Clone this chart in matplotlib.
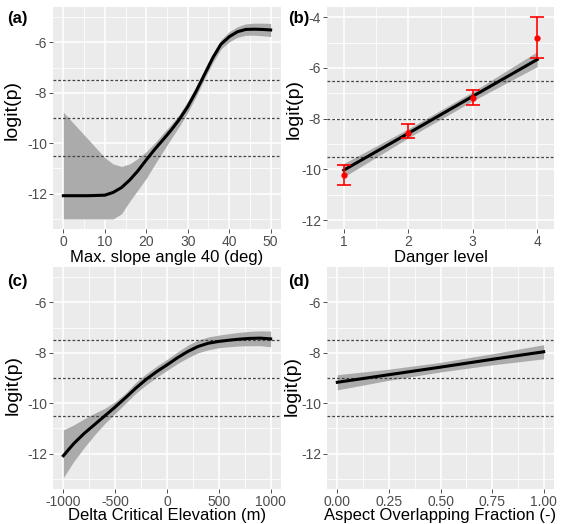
import matplotlib
matplotlib.use("Agg")
import matplotlib.pyplot as plt
import numpy as np

plt.rcParams['font.family'] = ['Liberation Sans', 'DejaVu Sans']

# ---------------- data ----------------
# (a) Max. slope angle 40 (deg)
xa = [0, 2, 4, 6, 8, 10, 12, 14, 16, 18, 20, 22, 24, 26, 28, 30, 32, 34, 36, 38, 40, 42, 44, 46, 48, 50]
fit_a = [-12.08, -12.08, -12.08, -12.08, -12.07, -12.06, -11.95, -11.76, -11.46, -11.09, -10.66, -10.25,
         -9.87, -9.48, -9.05, -8.55, -7.95, -7.29, -6.63, -6.08, -5.78, -5.58, -5.49, -5.48, -5.49, -5.51]
up_a = [-8.77, -9.13, -9.49, -9.85, -10.21, -10.57, -10.82, -10.92, -10.82, -10.6, -10.33, -10.0,
        -9.62, -9.25, -8.85, -8.33, -7.75, -7.1, -6.45, -5.9, -5.58, -5.38, -5.27, -5.24, -5.24, -5.25]
lo_a = [-13.0, -13.0, -13.0, -13.0, -13.0, -13.0, -13.0, -12.8, -12.3, -11.85, -11.39, -10.85,
        -10.33, -9.82, -9.32, -8.78, -8.15, -7.47, -6.82, -6.27, -5.98, -5.8, -5.72, -5.72, -5.74, -5.77]
hl_a = [-7.5, -9.0, -10.5]

# (b) Danger level
xb = [1, 2, 3, 4]
fit_b = [-10.03, -8.58, -7.12, -5.67]
up_b = [-9.77, -8.40, -6.94, -5.36]
lo_b = [-10.30, -8.76, -7.30, -5.95]
obs_b = [-10.23, -8.55, -7.17, -4.82]
obs_hi_b = [-9.84, -8.23, -6.88, -4.0]
obs_lo_b = [-10.62, -8.78, -7.47, -5.62]
hl_b = [-6.5, -8.0, -9.5]

# (c) Delta Critical Elevation (m)
xc = [-1000, -900, -800, -700, -600, -500, -400, -300, -200, -100, 0, 100, 200, 300, 400, 500, 600, 700, 800, 900, 1000]
fit_c = [-12.08, -11.6, -11.2, -10.85, -10.5, -10.15, -9.78, -9.4, -9.05, -8.75, -8.48, -8.2, -7.95,
         -7.75, -7.62, -7.55, -7.5, -7.46, -7.43, -7.42, -7.45]
up_c = [-11.06, -10.86, -10.62, -10.4, -10.2, -9.94, -9.6, -9.17, -8.83, -8.53, -8.26, -7.97, -7.7,
        -7.5, -7.37, -7.3, -7.24, -7.19, -7.15, -7.13, -7.14]
lo_c = [-12.95, -12.31, -11.76, -11.26, -10.8, -10.4, -10.0, -9.6, -9.27, -8.97, -8.7, -8.43, -8.2,
        -8.0, -7.88, -7.8, -7.76, -7.73, -7.72, -7.72, -7.76]
hl_c = [-7.5, -9.0, -10.5]

# (d) Aspect Overlapping Fraction (-)
xd = [0.0, 0.25, 0.5, 0.75, 1.0]
fit_d = [-9.17, -8.87, -8.57, -8.26, -7.96]
up_d = [-8.87, -8.65, -8.38, -8.04, -7.68]
lo_d = [-9.47, -9.09, -8.76, -8.48, -8.24]
hl_d = [-7.5, -9.0, -10.5]

# ---------------- style ----------------
W, H = 562, 524
fig = plt.figure(figsize=(W / 100, H / 100), dpi=100)
BG = '#EBEBEB'
RIB = '#ABABAB'

def make_ax(l, t, r, b):
    return fig.add_axes([l / W, 1 - b / H, (r - l) / W, (b - t) / H]), (l, t, r, b)

def style(axb, xlim, ylim, xmaj, xmin, ymaj, ymin, xticklabels, xlabel, ylab_px, xlpad=1):
    ax, (l, t, r, b) = axb
    ax.set_facecolor(BG)
    ax.set_xlim(*xlim)
    ax.set_ylim(*ylim)
    ax.set_xticks(xmaj)
    ax.set_xticklabels(xticklabels)
    ax.set_xticks(xmin, minor=True)
    ax.set_yticks(ymaj)
    ax.set_yticklabels([f"{v:g}" for v in ymaj])
    ax.set_yticks(ymin, minor=True)
    ax.grid(which='major', color='white', lw=1.1, zorder=0)
    ax.grid(which='minor', color='white', lw=0.55, zorder=0)
    ax.set_axisbelow(True)
    for s in ax.spines.values():
        s.set_visible(False)
    ax.tick_params(which='major', length=2.75, width=0.6, color='#333333',
                   labelsize=10, labelcolor='#4D4D4D', pad=1.5)
    ax.tick_params(which='minor', length=0)
    ax.set_xlabel(xlabel, fontsize=12, labelpad=xlpad)
    ax.set_ylabel('logit(p)', fontsize=14)
    lx, ly = ylab_px
    ax.yaxis.set_label_coords((lx - l) / (r - l), (b - ly) / (b - t))

def hlines(ax, ys):
    for y in ys:
        ax.axhline(y, color='#444444', lw=0.9, ls=(0, (2.2, 1.6)), zorder=3)

ylim_main = (-13.4, -4.6)
yt = [-12, -10, -8, -6]
ym = [-13, -11, -9, -7, -5]

# (a)
axb = make_ax(53, 7, 281, 229)
ax = axb[0]
ax.fill_between(xa, lo_a, up_a, color=RIB, lw=0, zorder=2)
ax.plot(xa, fit_a, color='black', lw=2.2, zorder=4)
hlines(ax, hl_a)
style(axb, (-2.5, 52.5), ylim_main, [0, 10, 20, 30, 40, 50], [5, 15, 25, 35, 45], yt, ym,
      ['0', '10', '20', '30', '40', '50'], 'Max. slope angle 40 (deg)', (21, 110))

# (b)
axb = make_ax(327, 7, 554, 229)
ax = axb[0]
ax.fill_between(xb, lo_b, up_b, color=RIB, lw=0, zorder=2)
ax.plot(xb, fit_b, color='black', lw=2.2, zorder=4)
hlines(ax, hl_b)
yerr = [np.array(obs_b) - np.array(obs_lo_b), np.array(obs_hi_b) - np.array(obs_b)]
ax.errorbar(xb, obs_b, yerr=yerr, fmt='o', color='red', ms=3.5, capsize=4.7, elinewidth=1.2,
            capthick=1.2, zorder=5)
style(axb, (0.74, 4.26), (-12.35, -3.6), [1, 2, 3, 4], [1.5, 2.5, 3.5], [-12, -10, -8, -6, -4],
      [-11, -9, -7, -5], ['1', '2', '3', '4'], 'Danger level', (303, 109))

# (c)
axb = make_ax(53, 267, 281, 489)
ax = axb[0]
ax.fill_between(xc, lo_c, up_c, color=RIB, lw=0, zorder=2)
ax.plot(xc, fit_c, color='black', lw=2.2, zorder=4)
hlines(ax, hl_c)
style(axb, (-1100, 1100), ylim_main, [-1000, -500, 0, 500, 1000], [-750, -250, 250, 750], yt, ym,
      ['-1000', '-500', '0', '500', '1000'], 'Delta Critical Elevation (m)', (22, 385), xlpad=-0.5)

# (d)
axb = make_ax(327, 267, 554, 489)
ax = axb[0]
ax.fill_between(xd, lo_d, up_d, color=RIB, lw=0, zorder=2)
ax.plot(xd, fit_d, color='black', lw=2.2, zorder=4)
hlines(ax, hl_d)
style(axb, (-0.05, 1.05), ylim_main, [0, 0.25, 0.5, 0.75, 1.0], [0.125, 0.375, 0.625, 0.875], yt, ym,
      ['0.00', '0.25', '0.50', '0.75', '1.00'], 'Aspect Overlapping Fraction (-)', (301, 386), xlpad=-0.5)

# panel tags
for lab, x, y in [('(a)', 7, 11), ('(b)', 288, 11), ('(c)', 7, 274), ('(d)', 288, 274)]:
    fig.text(x / W, 1 - y / H, lab, fontsize=12, fontweight='bold', va='top', ha='left')

fig.savefig('out.png', dpi=100)
